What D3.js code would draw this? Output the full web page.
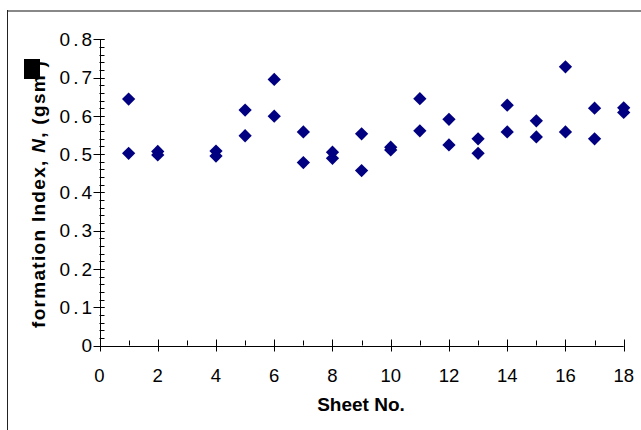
<!DOCTYPE html>
<html><head><meta charset="utf-8">
<script src="https://cdn.jsdelivr.net/npm/d3@7"></script>
<style>body{margin:0;background:#fff}svg{display:block}text{font-family:"Liberation Sans",Arial,sans-serif}</style>
</head><body>
<script>
// Data
const sheets = [1,1,2,2,4,4,5,5,6,6,7,7,8,8,9,9,10,10,11,11,12,12,13,13,14,14,15,15,16,16,17,17,18,18];
const indexValues = [0.644,0.502,0.507,0.498,0.508,0.495,0.615,0.548,0.695,0.599,0.558,0.478,0.505,0.489,0.553,0.457,0.518,0.511,0.645,0.561,0.591,0.524,0.540,0.502,0.628,0.558,0.587,0.545,0.728,0.558,0.620,0.540,0.621,0.609];
const xTicks = [0,2,4,6,8,10,12,14,16,18];
const xMinor = [1,3,5,7,9,11,13,15,17];
const yTicks = [0,0.1,0.2,0.3,0.4,0.5,0.6,0.7,0.8];
const yMinor = d3.range(0,0.8001,0.02);

const W=641,H=430;
const svg=d3.select("body").append("svg").attr("width",W).attr("height",H);
// frame
svg.append("line").attr("x1",7).attr("x2",W).attr("y1",11).attr("y2",11).attr("stroke","#888").attr("stroke-width",2);
svg.append("line").attr("x1",7.5).attr("x2",7.5).attr("y1",10).attr("y2",H).attr("stroke","#222").attr("stroke-width",1);

const x=d3.scaleLinear().domain([0,18]).range([99.5,623.7]);
const y=d3.scaleLinear().domain([0,0.8]).range([345.5,39.3]);

const g=svg.append("g");
// y minor ticks (inside, right)
g.selectAll(".ym").data(yMinor).join("line")
  .attr("x1",x(0)).attr("x2",x(0)+5).attr("y1",d=>Math.round(y(d))+0.5).attr("y2",d=>Math.round(y(d))+0.5).attr("stroke","#000");
// y major ticks (cross)
g.selectAll(".yM").data(yTicks).join("line")
  .attr("x1",x(0)-6).attr("x2",x(0)+5).attr("y1",d=>Math.round(y(d))+0.5).attr("y2",d=>Math.round(y(d))+0.5).attr("stroke","#000");
// x minor ticks
g.selectAll(".xm").data(xMinor).join("line")
  .attr("x1",d=>Math.round(x(d))+0.5).attr("x2",d=>Math.round(x(d))+0.5).attr("y1",y(0)-5).attr("y2",y(0)).attr("stroke","#000");
// x major ticks
g.selectAll(".xM").data(xTicks).join("line")
  .attr("x1",d=>Math.round(x(d))+0.5).attr("x2",d=>Math.round(x(d))+0.5).attr("y1",y(0)-6).attr("y2",y(0)+6).attr("stroke","#000");
// axis lines
g.append("line").attr("x1",Math.round(x(0))+0.5).attr("x2",Math.round(x(0))+0.5).attr("y1",y(0.8)).attr("y2",y(0)).attr("stroke","#000");
g.append("line").attr("x1",x(0)).attr("x2",x(18)).attr("y1",Math.round(y(0))+0.5).attr("y2",Math.round(y(0))+0.5).attr("stroke","#000");

// tick labels
g.selectAll(".yl").data(yTicks).join("text")
  .attr("x",d=>d===0?92:95).attr("y",d=>y(d)+6.8).attr("text-anchor","end")
  .attr("font-size",19).attr("letter-spacing",d=>d===0?0:3)
  .text(d=>d===0?"0":d3.format(".1f")(d));
g.selectAll(".xl").data(xTicks).join("text")
  .attr("x",d=>x(d)).attr("y",382).attr("text-anchor","middle")
  .attr("font-size",18.5).text(d=>d);

// axis titles
svg.append("text").attr("x",361).attr("y",411).attr("text-anchor","middle")
  .attr("font-size",19).attr("font-weight","bold").text("Sheet No.");
const yl=svg.append("text").attr("transform","translate(45,328) rotate(-90)")
  .attr("font-size",19).attr("font-weight","bold").attr("letter-spacing",1.3);
yl.append("tspan").text("formation Index,  ");
yl.append("tspan").attr("font-style","italic").text("N");
yl.append("tspan").text(", (gsm ");
yl.append("tspan").text(")");
svg.append("rect").attr("x",24).attr("y",59).attr("width",16).attr("height",20).attr("fill","#000");

// points
const sym=d3.symbol().type(d3.symbolSquare).size(88);
g.selectAll(".pt").data(sheets.map((s,i)=>[s,indexValues[i]])).join("path")
  .attr("d",sym).attr("fill","#000080")
  .attr("transform",d=>`translate(${x(d[0])},${y(d[1])}) rotate(45)`);
</script>
</body></html>
